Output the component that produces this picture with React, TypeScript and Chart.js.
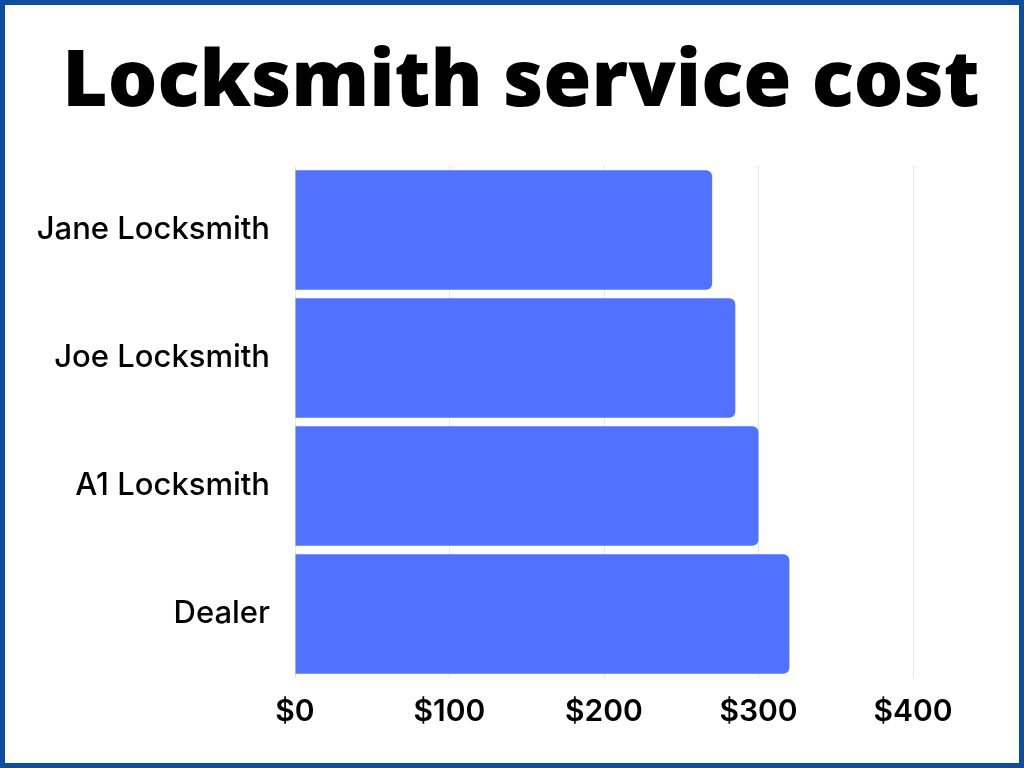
import React, { useEffect, useRef } from "react";
import { Chart, registerables } from "chart.js";

Chart.register(...registerables);

const title = "Locksmith service cost";
const categories = ["Jane Locksmith", "Joe Locksmith", "A1 Locksmith", "Dealer"];
const costs = [270, 285, 300, 320];
const xTicks = [0, 100, 200, 300, 400];

export default function App() {
  const ref = useRef<HTMLCanvasElement | null>(null);

  useEffect(() => {
    document.body.style.margin = "0";
    const ctx = ref.current;
    if (!ctx) return;
    const chart = new Chart(ctx, {
      type: "bar",
      data: {
        labels: categories,
        datasets: [
          {
            data: costs,
            backgroundColor: "#5271ff",
            borderRadius: 6,
            borderSkipped: "start",
            barPercentage: 0.935,
            categoryPercentage: 1,
          },
        ],
      },
      options: {
        indexAxis: "y",
        animation: false,
        responsive: false,
        maintainAspectRatio: false,
        devicePixelRatio: 1,
        layout: { padding: { top: 0, right: 0, bottom: 0, left: 18 } },
        plugins: {
          legend: { display: false },
          tooltip: { enabled: false },
          title: {
            display: true,
            text: title,
            color: "#000",
            font: { family: "'Open Sans'", size: 78, weight: "800" },
            padding: { top: 32, bottom: 35.4 },
          },
        },
        scales: {
          x: {
            min: 0,
            max: 400,
            afterBuildTicks: (scale: any) => {
              scale.ticks = xTicks.map((v) => ({ value: v }));
            },
            afterFit: (scale: any) => {
              scale.height = 85;
            },
            grid: { color: "#e6e6e6", lineWidth: 1, drawTicks: false },
            border: { display: false },
            ticks: {
              color: "#000",
              padding: 16,
              maxRotation: 0,
              font: { family: "Inter", size: 30, weight: "600" },
              callback: (v: any) => "$" + v,
            },
          },
          y: {
            afterFit: (scale: any) => {
              scale.width = 272;
            },
            grid: { display: false },
            border: { display: false },
            ticks: {
              color: "#000",
              padding: 17,
              font: { family: "Inter", size: 31, weight: "500" },
            },
          },
          y2: {
            type: "category",
            position: "right",
            labels: categories,
            afterFit: (scale: any) => {
              scale.width = 106;
            },
            grid: { display: false },
            border: { display: false },
            ticks: { display: false },
          },
        },
      },
    });
    return () => chart.destroy();
  }, []);

  return (
    <div
      style={{
        width: 1024,
        height: 768,
        boxSizing: "border-box",
        border: "5px solid #0c4da2",
        background: "#fff",
      }}
    >
      <canvas ref={ref} width={1014} height={758} style={{ display: "block" }} />
    </div>
  );
}
